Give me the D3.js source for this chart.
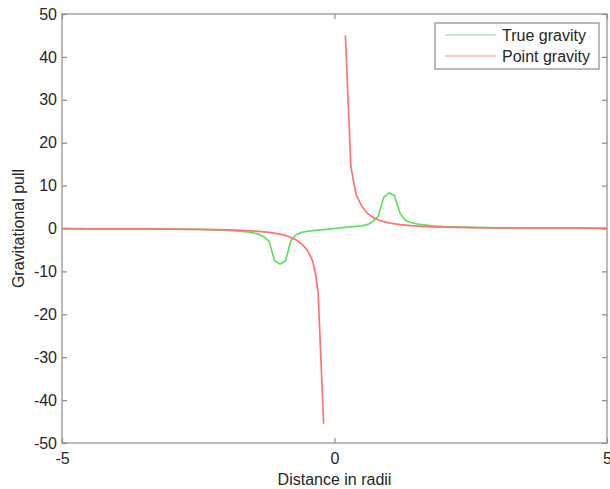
<!DOCTYPE html>
<html>
<head>
<meta charset="utf-8">
<script src="https://cdn.jsdelivr.net/npm/d3@7"></script>
<style>
  html, body { margin: 0; padding: 0; background: #fff; }
  svg { display: block; font-family: "Liberation Sans", Arial, Helvetica, sans-serif; }
</style>
</head>
<body>
<svg id="chart" width="610" height="489"></svg>
<script>
// Axis ticks
const xTicks = [-5, 0, 5];
const yTicks = [-50, -40, -30, -20, -10, 0, 10, 20, 30, 40, 50];

// True gravity (field of an extended body)
const trueX = [-5, -4.5, -4, -3.5, -3, -2.5, -2, -1.8, -1.6, -1.5, -1.4, -1.3, -1.2, -1.1, -1, -0.9, -0.8, -0.7, -0.6, -0.5, -0.4, -0.3, -0.2, -0.1,
               0, 0.1, 0.2, 0.3, 0.4, 0.5, 0.6, 0.7, 0.8, 0.9, 1, 1.1, 1.2, 1.3, 1.4, 1.5, 1.6, 1.8, 2, 2.5, 3, 3.5, 4, 4.5, 5];
const trueY = [-0.05, -0.065, -0.08, -0.11, -0.15, -0.22, -0.38, -0.55, -0.8, -1.0, -1.3, -1.9, -3.0, -7.5, -8.3, -7.6, -2.8, -1.4, -0.9, -0.65, -0.5, -0.38, -0.26, -0.13,
               0, 0.14, 0.27, 0.39, 0.5, 0.62, 0.9, 1.6, 2.8, 7.2, 8.3, 7.7, 3.6, 1.9, 1.4, 1.1, 0.9, 0.6, 0.42, 0.24, 0.16, 0.11, 0.08, 0.065, 0.05];

// Point gravity (all mass at the centre); undefined at the origin
const pointX = [-5, -4.5, -4, -3.5, -3, -2.5, -2, -1.8, -1.6, -1.4, -1.2, -1, -0.9, -0.8, -0.7, -0.6, -0.5, -0.4, -0.35, -0.3, -0.2,
                0, 0.2, 0.3, 0.35, 0.4, 0.5, 0.6, 0.7, 0.8, 0.9, 1, 1.2, 1.4, 1.6, 1.8, 2, 2.5, 3, 3.5, 4, 4.5, 5];
const pointY = [-0.05, -0.065, -0.08, -0.11, -0.15, -0.21, -0.33, -0.4, -0.51, -0.66, -0.9, -1.3, -1.6, -2.1, -2.7, -3.6, -5.0, -7.6, -10.5, -15, -45.5,
                null, 45, 14.5, 11, 7.8, 5.2, 3.6, 2.65, 2.05, 1.6, 1.3, 0.9, 0.66, 0.51, 0.4, 0.33, 0.21, 0.15, 0.11, 0.08, 0.065, 0.05];

const seriesNames = ["True gravity", "Point gravity"];
const seriesColors = ["#5fe05f", "#ff7373"];

const svg = d3.select("#chart");
const plot = { left: 62, top: 14, right: 607, bottom: 443 };

const x = d3.scaleLinear().domain([-5, 5]).range([plot.left, plot.right]);
const y = d3.scaleLinear().domain([-50, 50]).range([plot.bottom, plot.top]);

const axisColor = "#8c8c8c";
const textColor = "#262626";
const tickLen = 5;
const plainNumber = d => String(d);   // hyphen-minus, as in the printed labels

// Axes box
svg.append("rect")
  .attr("x", plot.left).attr("y", plot.top)
  .attr("width", plot.right - plot.left).attr("height", plot.bottom - plot.top)
  .attr("fill", "#fff").attr("stroke", axisColor).attr("stroke-width", 1.2);

// Inward ticks on all four sides
const axisLeft = d3.axisLeft(y).tickValues(yTicks).tickSize(-tickLen).tickPadding(5).tickFormat(plainNumber);
const axisRight = d3.axisRight(y).tickValues(yTicks).tickSize(-tickLen).tickFormat("");
const axisBottom = d3.axisBottom(x).tickValues(xTicks).tickSize(-tickLen).tickPadding(10).tickFormat(plainNumber);
const axisTop = d3.axisTop(x).tickValues(xTicks).tickSize(-tickLen).tickFormat("");

function styleAxis(g) {
  g.select(".domain").remove();
  g.selectAll(".tick line").attr("stroke", axisColor).attr("stroke-width", 1.2);
  g.selectAll(".tick text").attr("fill", textColor).style("font-size", "16px")
    .style("font-family", "'Liberation Sans', Arial, sans-serif");
}

svg.append("g").attr("transform", `translate(${plot.left},0)`).call(axisLeft).call(styleAxis);
svg.append("g").attr("transform", `translate(${plot.right},0)`).call(axisRight).call(styleAxis);
svg.append("g").attr("transform", `translate(0,${plot.bottom})`).call(axisBottom).call(styleAxis);
svg.append("g").attr("transform", `translate(0,${plot.top})`).call(axisTop).call(styleAxis);

// Series lines
const trueData = trueX.map((d, i) => ({ x: d, y: trueY[i] }));
const pointData = pointX.map((d, i) => ({ x: d, y: pointY[i] }));

const line = d3.line()
  .defined(d => d.y !== null)
  .x(d => x(d.x))
  .y(d => y(d.y));

const lines = svg.append("g");
[trueData, pointData].forEach((data, i) => {
  lines.append("path")
    .datum(data)
    .attr("fill", "none")
    .attr("stroke", seriesColors[i])
    .attr("stroke-width", 1.7)
    .attr("stroke-linejoin", "round")
    .attr("d", line);
});

// Legend
const legend = svg.append("g").attr("transform", "translate(435,23)");
legend.append("rect")
  .attr("width", 164).attr("height", 46)
  .attr("fill", "#fff").attr("stroke", axisColor).attr("stroke-width", 1.2);
seriesNames.forEach((name, i) => {
  const ly = 12 + i * 21;
  legend.append("line")
    .attr("x1", 10).attr("x2", 61).attr("y1", ly).attr("y2", ly)
    .attr("stroke", seriesColors[i]).attr("stroke-width", 1.2).attr("opacity", 0.8);
  legend.append("text")
    .attr("x", 67).attr("y", ly + 5.5)
    .attr("fill", textColor).style("font-size", "16px")
    .text(name);
});

// Axis titles
svg.append("text")
  .attr("x", (plot.left + plot.right) / 2).attr("y", 485)
  .attr("text-anchor", "middle").attr("fill", textColor).style("font-size", "16px")
  .text("Distance in radii");

svg.append("text")
  .attr("transform", `translate(24,${(plot.top + plot.bottom) / 2}) rotate(-90)`)
  .attr("text-anchor", "middle").attr("fill", textColor).style("font-size", "16px")
  .text("Gravitational pull");
</script>
</body>
</html>
